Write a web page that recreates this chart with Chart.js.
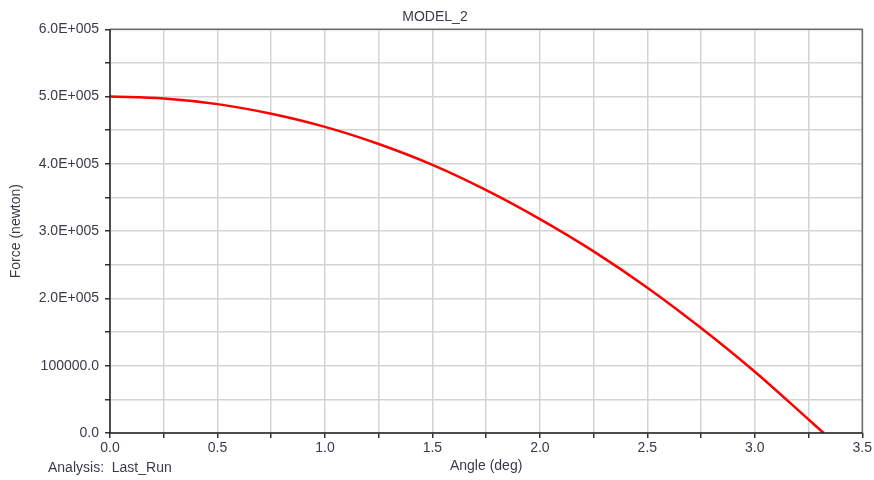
<!DOCTYPE html>
<html>
<head>
<meta charset="utf-8">
<script src="https://cdn.jsdelivr.net/npm/chart.js@4"></script>
<style>
  html, body { margin: 0; padding: 0; background: #fff; }
  #chart { display: block; }
</style>
</head>
<body>
<canvas id="chart" width="874" height="480"></canvas>
<script>
// Угол (град) и сила (Н)
const angleDeg = [0, 0.25, 0.5, 0.75, 1.0, 1.25, 1.5, 1.75, 2.0, 2.25, 2.5, 2.75, 3.0, 3.25, 3.32];
const forceN = [500000, 497200, 488800, 474500, 455000, 429500, 398500, 361000, 318000, 270000, 216000, 156000, 91000, 20000, 0];

const xMajorLabels = ['0.0', '0.5', '1.0', '1.5', '2.0', '2.5', '3.0', '3.5'];
const yMajorLabels = ['0.0', '100000.0', '2.0E+005', '3.0E+005', '4.0E+005', '5.0E+005', '6.0E+005'];

const FONT = '"Liberation Sans", Arial, sans-serif';
const TEXT = '#3b3b48';
const FSIZE = 14;

// Рамка графика и подпись Analysis
const framePlugin = {
  id: 'frame',
  afterDraw(chart) {
    const { ctx, chartArea: a } = chart;
    ctx.save();
    ctx.lineWidth = 1.5;
    ctx.strokeStyle = '#6e6e6e';
    ctx.beginPath();
    ctx.moveTo(a.left, a.top);
    ctx.lineTo(a.right, a.top);
    ctx.lineTo(a.right, a.bottom);
    ctx.stroke();
    ctx.strokeStyle = '#1e1e1e';
    ctx.beginPath();
    ctx.moveTo(a.left, a.top);
    ctx.lineTo(a.left, a.bottom);
    ctx.lineTo(a.right, a.bottom);
    ctx.stroke();
    ctx.fillStyle = TEXT;
    ctx.font = FSIZE + 'px ' + FONT;
    ctx.textBaseline = 'middle';
    ctx.fillText('Analysis:  Last_Run', 48, 468);
    ctx.restore();
  }
};

new Chart(document.getElementById('chart'), {
  type: 'line',
  data: {
    datasets: [{
      label: 'Force',
      data: angleDeg.map((x, i) => ({ x: x, y: forceN[i] })),
      borderColor: '#ff0000',
      borderWidth: 2.5,
      pointRadius: 0,
      fill: false,
      cubicInterpolationMode: 'monotone'
    }]
  },
  options: {
    responsive: false,
    animation: false,
    layout: { padding: { left: 4, right: 8, top: 0, bottom: 0 } },
    plugins: {
      legend: { display: false },
      tooltip: { enabled: false },
      title: {
        display: true,
        text: 'MODEL_2',
        color: TEXT,
        font: { family: FONT, size: FSIZE, weight: 'normal' },
        padding: { top: 9, bottom: 3.5 }
      }
    },
    scales: {
      x: {
        type: 'linear',
        min: 0,
        max: 3.5,
        border: { display: false },
        grid: { color: '#d4d4d4', lineWidth: 1.5, tickColor: '#333', tickLength: 5 },
        ticks: {
          stepSize: 0.25,
          autoSkip: false,
          maxRotation: 0,
          padding: 2,
          color: TEXT,
          font: { family: FONT, size: FSIZE },
          callback: (v) => {
            const k = Math.round(v * 2);
            return Math.abs(v * 2 - k) < 1e-9 ? xMajorLabels[k] : '';
          }
        },
        title: {
          display: true,
          text: 'Angle (deg)',
          color: TEXT,
          font: { family: FONT, size: FSIZE },
          padding: { top: 0, bottom: 5.5 }
        },
        afterFit: (s) => { s.height = 47; }
      },
      y: {
        type: 'linear',
        min: 0,
        max: 600000,
        border: { display: false },
        grid: { color: '#d4d4d4', lineWidth: 1.5, tickColor: '#333', tickLength: 5 },
        ticks: {
          stepSize: 50000,
          autoSkip: false,
          padding: 6,
          color: TEXT,
          font: { family: FONT, size: FSIZE },
          callback: (v) => (v % 100000 === 0 ? yMajorLabels[v / 100000] : '')
        },
        title: {
          display: true,
          text: 'Force (newton)',
          color: TEXT,
          font: { family: FONT, size: FSIZE },
          padding: 4
        },
        afterFit: (s) => { s.width = 106; }
      }
    }
  },
  plugins: [framePlugin]
});
</script>
</body>
</html>
